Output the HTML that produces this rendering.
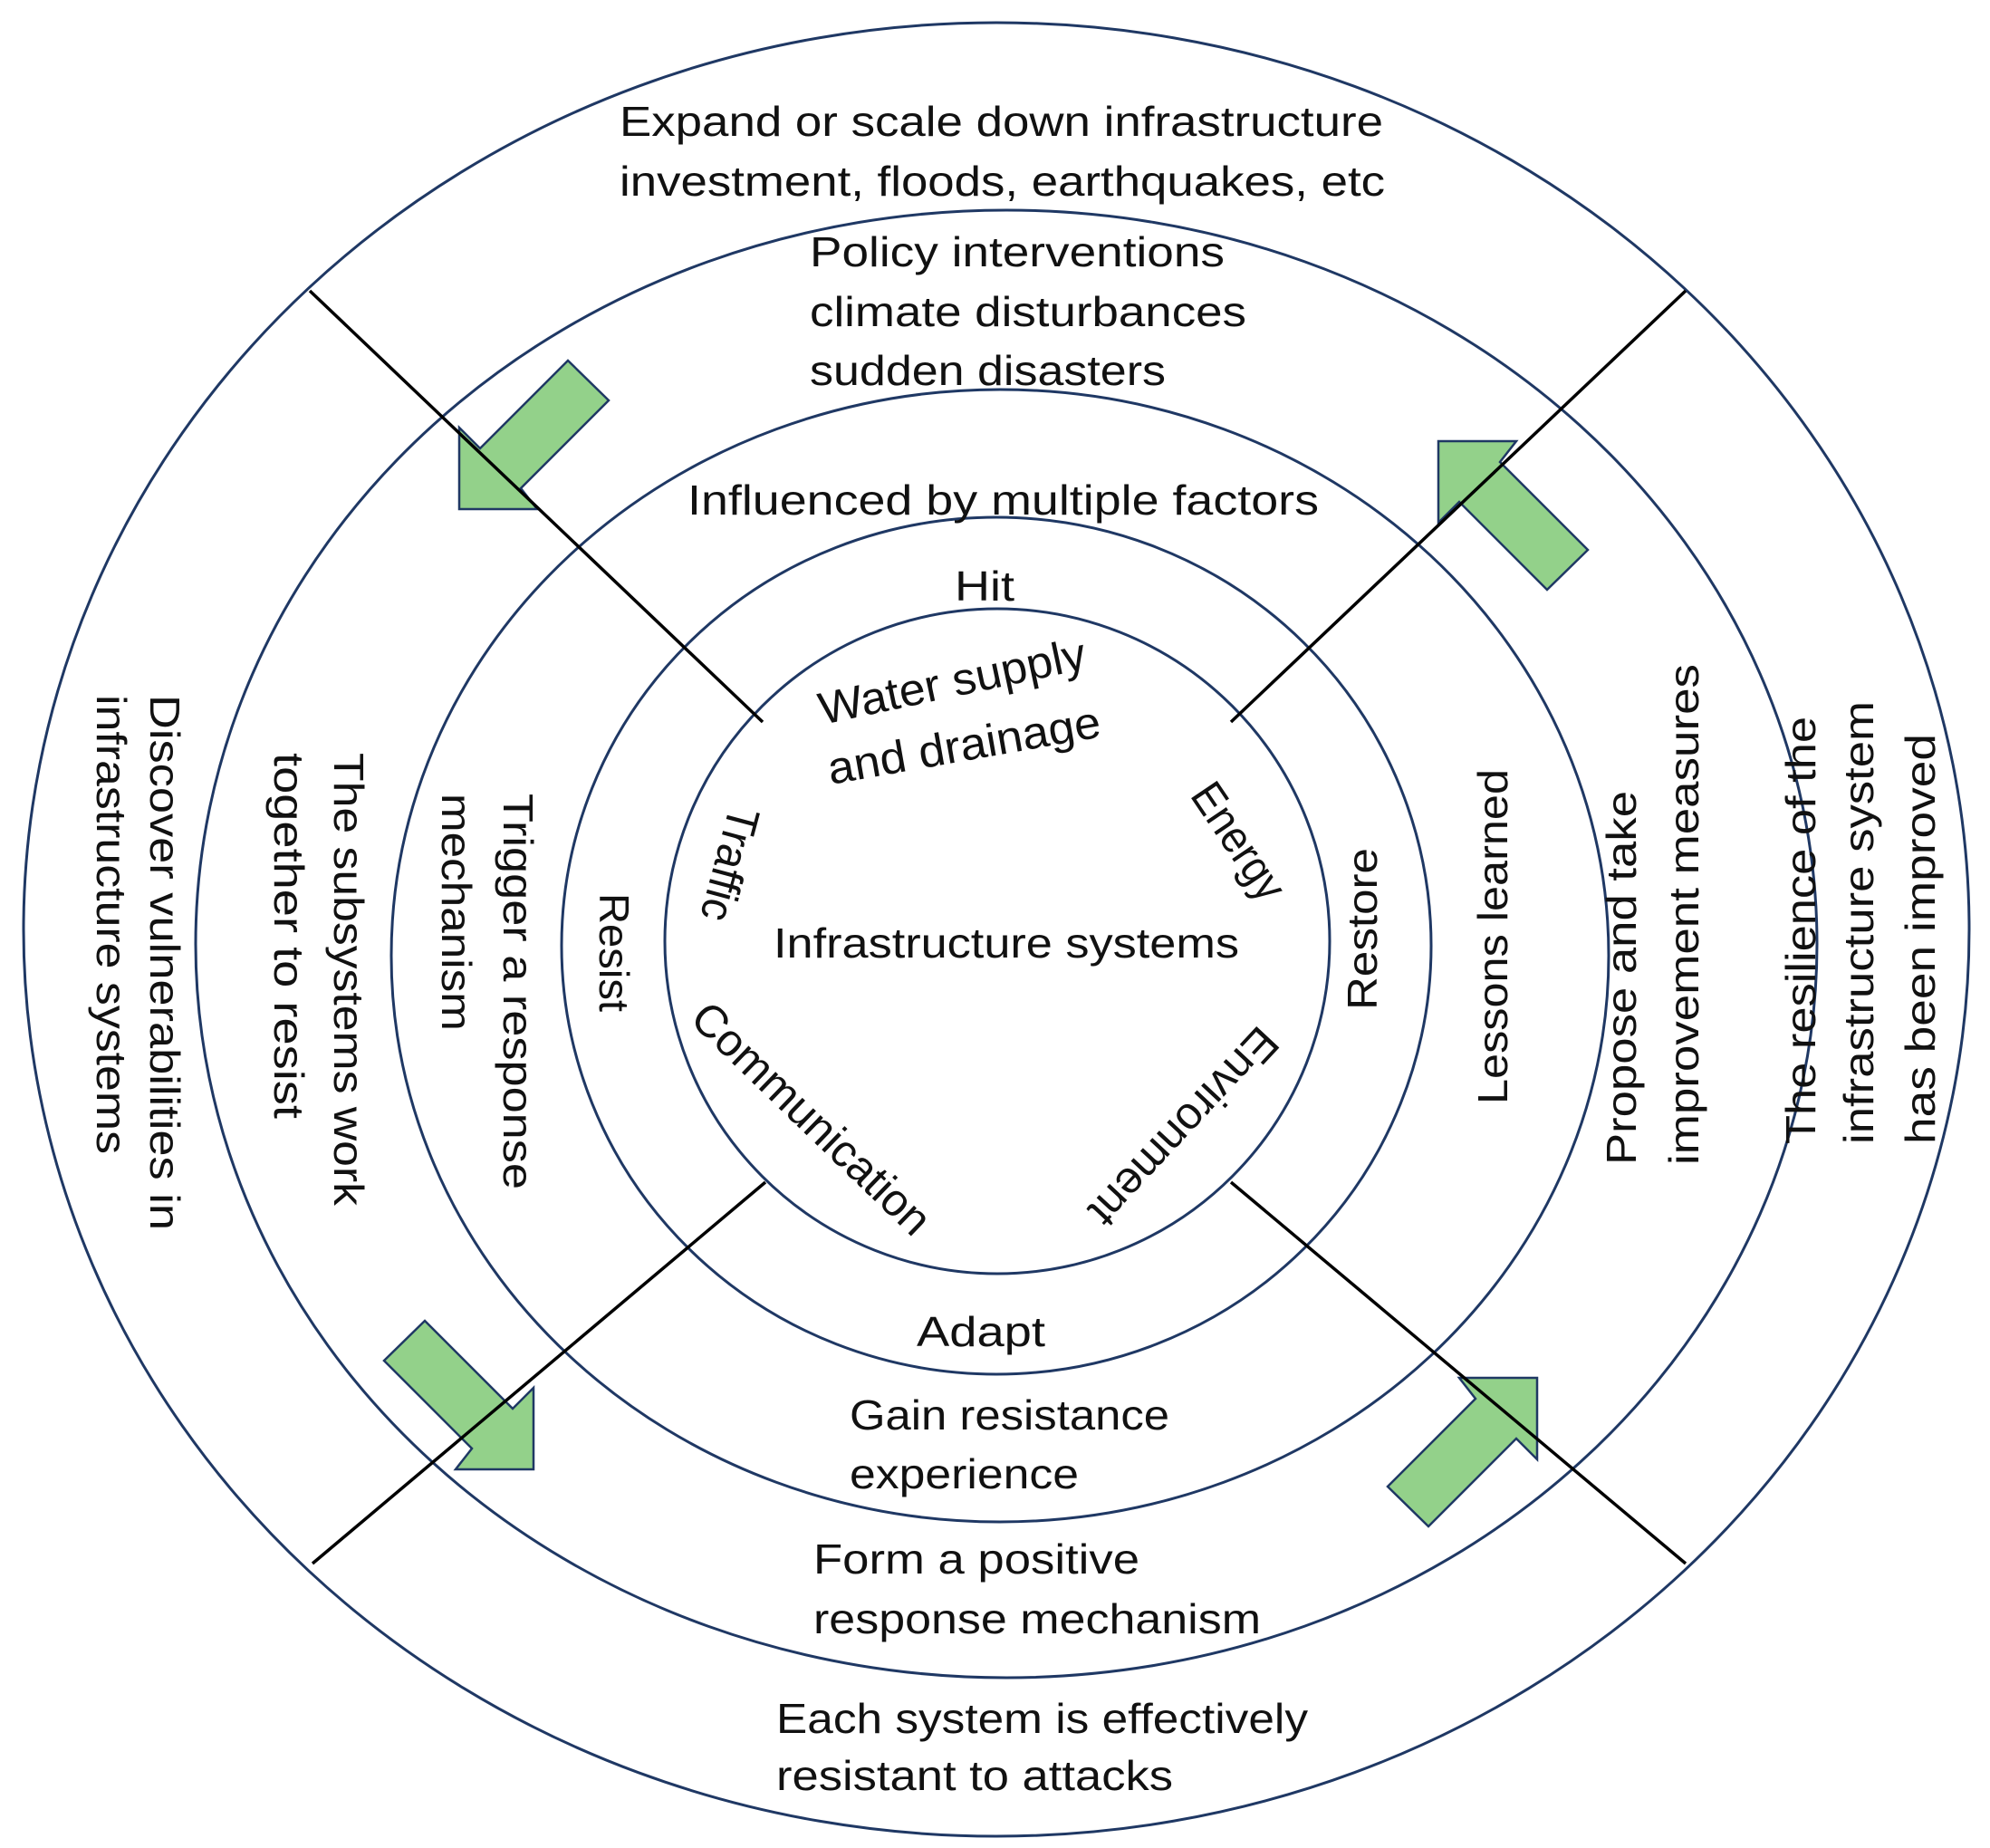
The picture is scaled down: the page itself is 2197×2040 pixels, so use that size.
<!DOCTYPE html>
<html><head><meta charset="utf-8"><style>
html,body{margin:0;padding:0;background:#fff}
svg{display:block}
text{font-family:"Liberation Sans",sans-serif;font-size:46px;fill:#111}
text.in{font-size:50px}
</style></head><body>
<svg width="2197" height="2040" viewBox="0 0 2197 2040" xmlns="http://www.w3.org/2000/svg">
<g fill="none" stroke="#1f3864" stroke-width="3">
<ellipse cx="1100" cy="1026" rx="1074" ry="1001"/>
<ellipse cx="1111" cy="1042" rx="895" ry="810"/>
<ellipse cx="1104" cy="1055" rx="672" ry="625"/>
<ellipse cx="1100" cy="1044" rx="480" ry="473"/>
<circle cx="1101" cy="1039" r="367"/>
</g>
<g fill="#93d18a" stroke="#1f3864" stroke-width="2.5" stroke-linejoin="miter">
<polygon points="627,398 672,442 575,539 593,562 507,562 507,472 530,495"/>
<polygon points="1708,651 1753,607 1656,510 1674,487 1588,487 1588,577 1611,554"/>
<polygon points="469,1458 424,1502 521,1599 503,1622 589,1622 589,1532 566,1555"/>
<polygon points="1577,1685 1532,1641 1629,1544 1611,1521 1697,1521 1697,1611 1674,1588"/>
</g>
<g stroke="#000" stroke-width="3.5">
<line x1="342" y1="321" x2="842" y2="797"/>
<line x1="1861" y1="321" x2="1359" y2="797"/>
<line x1="345" y1="1726" x2="845" y2="1305"/>
<line x1="1359" y1="1305" x2="1861" y2="1726"/>
</g>
<g>
<text x="684" y="150" textLength="843" lengthAdjust="spacingAndGlyphs">Expand or scale down infrastructure</text>
<text x="684" y="216" textLength="845" lengthAdjust="spacingAndGlyphs">investment, floods, earthquakes, etc</text>
<text x="894" y="294" textLength="458" lengthAdjust="spacingAndGlyphs">Policy interventions</text>
<text x="894" y="360" textLength="482" lengthAdjust="spacingAndGlyphs">climate disturbances</text>
<text x="894" y="425" textLength="393" lengthAdjust="spacingAndGlyphs">sudden disasters</text>
<text x="759" y="568" textLength="697" lengthAdjust="spacingAndGlyphs">Influenced by multiple factors</text>
<text x="1054" y="663" textLength="66" lengthAdjust="spacingAndGlyphs">Hit</text>
<text x="854" y="1057" textLength="514" lengthAdjust="spacingAndGlyphs">Infrastructure systems</text>
<text x="1012" y="1486" textLength="142" lengthAdjust="spacingAndGlyphs">Adapt</text>
<text x="938" y="1578" textLength="353" lengthAdjust="spacingAndGlyphs">Gain resistance</text>
<text x="938" y="1643" textLength="253" lengthAdjust="spacingAndGlyphs">experience</text>
<text x="898" y="1737" textLength="360" lengthAdjust="spacingAndGlyphs">Form a positive</text>
<text x="898" y="1803" textLength="494" lengthAdjust="spacingAndGlyphs">response mechanism</text>
<text x="857" y="1913" textLength="587" lengthAdjust="spacingAndGlyphs">Each system is effectively</text>
<text x="857" y="1976" textLength="438" lengthAdjust="spacingAndGlyphs">resistant to attacks</text>

<text transform="translate(166,767) rotate(90)" textLength="591" lengthAdjust="spacingAndGlyphs">Discover vulnerabilities in</text>
<text transform="translate(107,767) rotate(90)" textLength="507" lengthAdjust="spacingAndGlyphs">infrastructure systems</text>
<text transform="translate(369,831) rotate(90)" textLength="500" lengthAdjust="spacingAndGlyphs">The subsystems work</text>
<text transform="translate(303,831) rotate(90)" textLength="404" lengthAdjust="spacingAndGlyphs">together to resist</text>
<text transform="translate(556,876) rotate(90)" textLength="437" lengthAdjust="spacingAndGlyphs">Trigger a response</text>
<text transform="translate(488,876) rotate(90)" textLength="262" lengthAdjust="spacingAndGlyphs">mechanism</text>
<text transform="translate(662,986) rotate(90)" textLength="131" lengthAdjust="spacingAndGlyphs">Resist</text>

<text transform="translate(1520,1115) rotate(-90)" textLength="179" lengthAdjust="spacingAndGlyphs">Restore</text>
<text transform="translate(1664,1219) rotate(-90)" textLength="370" lengthAdjust="spacingAndGlyphs">Lessons learned</text>
<text transform="translate(1806,1286) rotate(-90)" textLength="413" lengthAdjust="spacingAndGlyphs">Propose and take</text>
<text transform="translate(1875,1286) rotate(-90)" textLength="553" lengthAdjust="spacingAndGlyphs">improvement measures</text>
<text transform="translate(2004,1263) rotate(-90)" textLength="472" lengthAdjust="spacingAndGlyphs">The resilience of the</text>
<text transform="translate(2068,1263) rotate(-90)" textLength="489" lengthAdjust="spacingAndGlyphs">infrastructure system</text>
<text transform="translate(2136,1263) rotate(-90)" textLength="453" lengthAdjust="spacingAndGlyphs">has been improved</text>

<text class="in" transform="translate(908,800) rotate(-12)" textLength="300" lengthAdjust="spacingAndGlyphs">Water supply</text>
<text class="in" transform="translate(917,866) rotate(-10)" textLength="305" lengthAdjust="spacingAndGlyphs">and drainage</text>
<text class="in" transform="translate(806,888) rotate(105)" textLength="128" lengthAdjust="spacingAndGlyphs">Traffic</text>
<text class="in" transform="translate(1313,878) rotate(56)" textLength="145" lengthAdjust="spacingAndGlyphs">Energy</text>
<text class="in" transform="translate(760,1127) rotate(44)" textLength="345" lengthAdjust="spacingAndGlyphs">Communication</text>
<text class="in" transform="translate(1390,1130) rotate(133)" textLength="280" lengthAdjust="spacingAndGlyphs">Environment</text>
</g>
</svg>
</body></html>
